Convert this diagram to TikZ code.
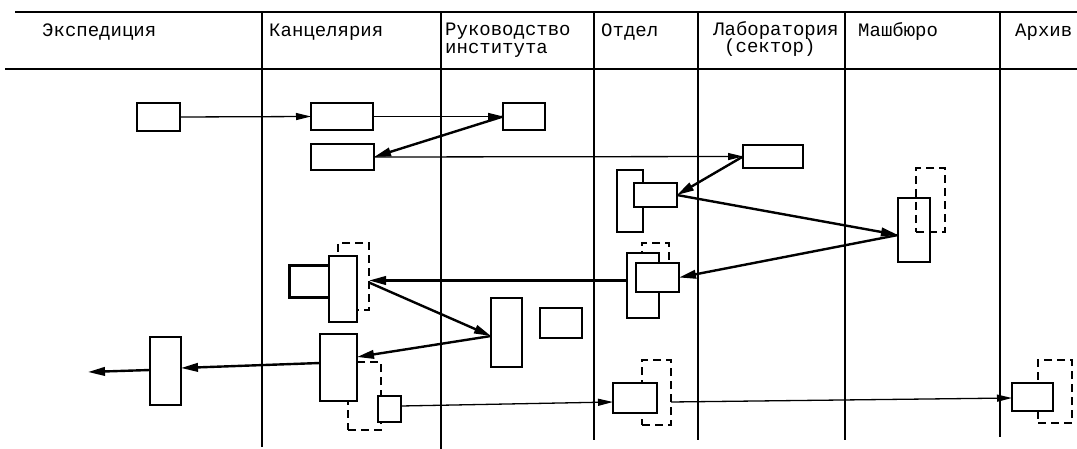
\documentclass[tikz,border=0pt]{standalone}
\usepackage{fontspec}
\setmainfont{Liberation Mono}
\usetikzlibrary{arrows.meta,calc}
\begin{document}
\begin{tikzpicture}[x=1pt,y=-1pt,
  box/.style={draw, line width=1.9pt, inner sep=0pt, outer sep=0pt},
  wbox/.style={box, fill=white},
  dbox/.style={draw, line width=2pt, dash pattern=on 8pt off 5pt, inner sep=0pt, outer sep=0pt},
  lane/.style={line width=1.8pt},
  thinarrow/.style={line width=1.3pt, -{Triangle[length=15pt,width=7pt]}},
  thickarrow/.style={line width=2.4pt, -{Triangle[length=17pt,width=8.5pt]}},
  hdr/.style={font=\fontsize{19}{18}\selectfont, inner sep=0pt, anchor=base west},
]
\useasboundingbox (0,0) rectangle (1077,449);
% frame
\draw[line width=2.6pt] (15,12) -- (1077,12);
\draw[line width=2.2pt] (5,69) -- (1077,69);
\foreach \x/\b in {262/447,441/449,594/440,698/440,845/440,1000/437}
  \draw[lane] (\x,12) -- (\x,\b);
% headers
\node[hdr] (h1) at (42,37) {Экспедиция};
\node[hdr] (h2) at (269,37) {Канцелярия};
\node[hdr] (h3) at (445,36) {Руководство};
\node[hdr] (h3b) at (445,54) {института};
\node[hdr] (h4) at (601,37) {Отдел};
\node[hdr] (h5) at (713,36) {Лаборатория};
\node[hdr] (h5b) at (724,53) {(сектор)};
\node[hdr] (h6) at (858,37) {Машбюро};
\node[hdr] (h7) at (1015,37) {Архив};
% row 1
\node[box, minimum width=43pt, minimum height=28pt] (e1) at (158.5,117) {};
\node[box, minimum width=62pt, minimum height=27pt] (k1) at (342,116.5) {};
\node[box, minimum width=42pt, minimum height=27pt] (r1) at (524,116.5) {};
\node[box, minimum width=63pt, minimum height=26pt] (k2) at (342.5,157) {};
\node[box, minimum width=60pt, minimum height=23pt] (l1) at (773,156.5) {};
% Otdel 1
\node[wbox, minimum width=26pt, minimum height=62pt] (o1b) at (630,201) {};
\node[wbox, minimum width=43pt, minimum height=24pt] (o1f) at (655.5,195) {};
% Mashburo
\node[box, minimum width=32pt, minimum height=64pt] (m1) at (914,230) {};
\node[dbox, minimum width=29pt, minimum height=64pt] (m1d) at (930.5,200) {};
% Otdel 2
\node[dbox, minimum width=27pt, minimum height=42pt] (o2d) at (655.5,264) {};
\node[wbox, minimum width=32pt, minimum height=65pt] (o2b) at (643,285.5) {};
\node[wbox, minimum width=43pt, minimum height=29pt] (o2f) at (657.5,277.5) {};
% Kanc middle
\node[dbox, minimum width=31pt, minimum height=67pt] (k3d) at (353.5,276.5) {};
\node[box, line width=3pt, minimum width=42pt, minimum height=32pt] (k3l) at (310,282) {};
\node[wbox, minimum width=28pt, minimum height=66pt] (k3t) at (343,289) {};
% Rukovodstvo
\node[box, minimum width=31pt, minimum height=69pt] (r2) at (506.5,332.5) {};
\node[box, minimum width=42pt, minimum height=30pt] (r3) at (561,323) {};
% Kanc lower
\node[dbox, minimum width=33pt, minimum height=68pt] (k4d) at (364.5,396) {};
\node[wbox, minimum width=37pt, minimum height=67pt] (k4t) at (338.5,367.5) {};
\node[wbox, minimum width=23pt, minimum height=26pt] (k4s) at (389.5,409) {};
% Expedition lower
\node[box, minimum width=31pt, minimum height=68pt] (e2) at (165.5,371) {};
\coordinate (out) at (88,372);
% Otdel bottom
\node[dbox, minimum width=29pt, minimum height=65pt] (o3d) at (656.5,392.5) {};
\node[wbox, minimum width=44pt, minimum height=30pt] (o3) at (635,398) {};
% Arkhiv
\node[dbox, minimum width=34pt, minimum height=63pt] (a1d) at (1055,391.5) {};
\node[wbox, minimum width=41pt, minimum height=28pt] (a1) at (1032.5,397) {};
% connectors
\draw[thinarrow] (e1.east) -- (k1.west);
\draw[thinarrow] (k1.east) -- (r1.west);
\draw[thickarrow] (r1.west) -- (k2.east);
\draw[thinarrow] (k2.east) -- (l1.west);
\draw[thickarrow] (l1.west) -- (o1f.east);
\draw[thickarrow] (o1f.east) -- ($(m1.west)+(0,5)$);
\draw[thickarrow] ($(m1.west)+(0,5)$) -- (o2f.east);
\draw[thickarrow] ($(o2b.west)+(0,-5)$) -- ($(k3d.east)+(0,4)$);
\draw[thickarrow] ($(k3d.east)+(0,6)$) -- ($(r2.west)+(0,3.5)$);
\draw[thickarrow] ($(r2.west)+(0,3.5)$) -- ($(k4t.east)+(0,-10.5)$);
\draw[thickarrow] ($(k4t.west)+(0,-4.5)$) -- ($(e2.east)+(0,-3)$);
\draw[thickarrow] ($(e2.west)+(0,-1)$) -- (out);
\draw[thinarrow] ($(k4s.east)+(0,-3)$) -- ($(o3.west)+(0,4)$);
\draw[thinarrow] ($(o3d.east)+(0,9.5)$) -- ($(a1.west)+(0,1)$);
\end{tikzpicture}
\end{document}
